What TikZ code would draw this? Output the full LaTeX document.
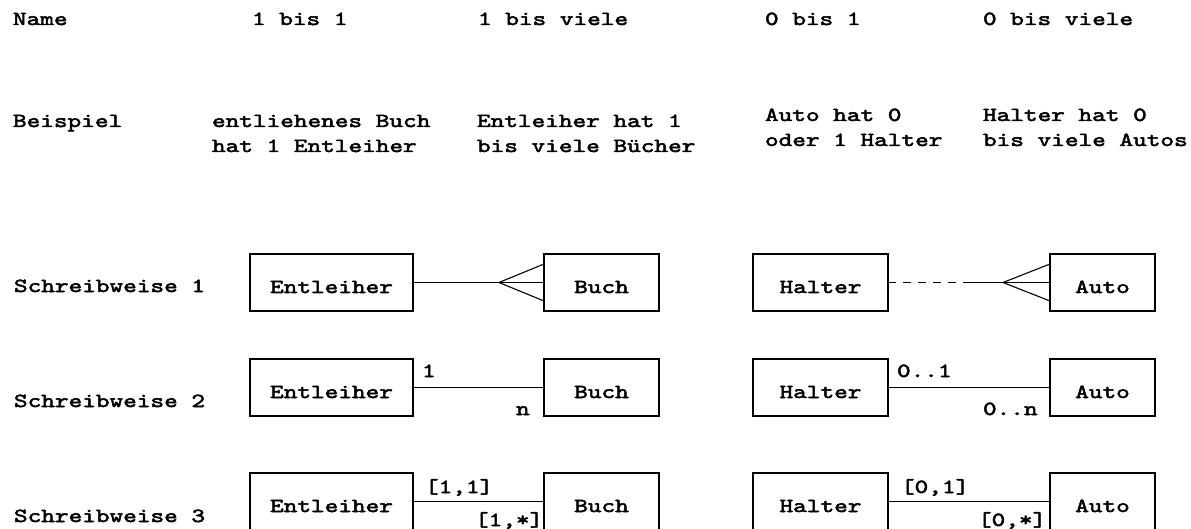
\documentclass[tikz,border=0pt]{standalone}
\usepackage{fontspec}
\usepackage{graphicx}
\usetikzlibrary{calc}
\newfontfamily\dfont[FakeStretch=1.30,FakeBold=2.5]{lmmono10-regular.otf}

\begin{document}
\begin{tikzpicture}[x=1pt,y=-1pt,
  every node/.style={inner sep=0pt,outer sep=0pt},
  txt/.style={anchor=base west,font=\dfont\fontsize{20}{24}\selectfont},
  ent/.style={draw,line width=1.3pt,minimum height=57pt,text height=21pt,text depth=0pt,
              font=\dfont\fontsize{20}{24}\selectfont},
  link/.style={line width=1.1pt},
  dashlink/.style={line width=1.1pt,dash pattern=on 8pt off 7pt},
]
\useasboundingbox[fill=white] (0,0) rectangle (1191,529);

% header rows
\node[txt] (name) at (13,25) {Name};
\node[txt] (n11) at (252,25) {1 bis 1};
\node[txt] (n1v) at (478,25) {1 bis viele};
\node[txt] (n01) at (765,25) {0 bis 1};
\node[txt] (n0v) at (983,25) {0 bis viele};

\node[txt] (bsp) at (13,127) {Beispiel};
\node[txt] (b2a) at (212,127) {entliehenes Buch};
\node[txt] (b2b) at (212,152) {hat 1 Entleiher};
\node[txt] (b3a) at (477,127) {Entleiher hat 1};
\node[txt] (b3b) at (477,152) {bis viele Bücher};
\node[txt] (b4a) at (765,121) {Auto hat 0};
\node[txt] (b4b) at (765,146) {oder 1 Halter};
\node[txt] (b5a) at (983,121) {Halter hat 0};
\node[txt] (b5b) at (983,146) {bis viele Autos};

\node[txt] (s1) at (14,292) {Schreibweise 1};
\node[txt] (s2) at (14,407) {Schreibweise 2};
\node[txt] (s3) at (14,522) {Schreibweise 3};

% row 1
\node[ent,minimum width=163pt] (E1) at (331.5,282.5) {Entleiher};
\node[ent,minimum width=115pt] (B1) at (601.5,282.5) {Buch};
\node[ent,minimum width=135pt] (H1) at (820.5,282.5) {Halter};
\node[ent,minimum width=105pt] (A1) at (1102.5,282.5) {Auto};

\coordinate (cf1) at ($(B1.west)+(-45,0)$);
\draw[link] (E1.east) -- (B1.west);
\draw[link] ($(B1.west)+(0,-18.5)$) -- (cf1) -- ($(B1.west)+(0,18.5)$);

\coordinate (cf2) at ($(A1.west)+(-47,0)$);
\coordinate (ds2) at ($(A1.west)+(-87,0)$);
\draw[dashlink] (H1.east) -- (ds2);
\draw[link] (ds2) -- (A1.west);
\draw[link] ($(A1.west)+(0,-18.5)$) -- (cf2) -- ($(A1.west)+(0,18.5)$);

% row 2
\node[ent,minimum width=163pt] (E2) at (331.5,387.5) {Entleiher};
\node[ent,minimum width=115pt] (B2) at (601.5,387.5) {Buch};
\node[ent,minimum width=135pt] (H2) at (820.5,387.5) {Halter};
\node[ent,minimum width=105pt] (A2) at (1102.5,387.5) {Auto};
\draw[link] (E2.east) -- (B2.west);
\draw[link] (H2.east) -- (A2.west);
\node[txt] (m1) at (422,377) {1};
\node[txt] (m2) at (516,415) {n};
\node[txt] (m3) at (897,377) {0..1};
\node[txt] (m4) at (983,415) {0..n};

% row 3
\node[ent,minimum width=163pt] (E3) at (331.5,501.5) {Entleiher};
\node[ent,minimum width=115pt] (B3) at (601.5,501.5) {Buch};
\node[ent,minimum width=135pt] (H3) at (820.5,501.5) {Halter};
\node[ent,minimum width=105pt] (A3) at (1102.5,501.5) {Auto};
\draw[link] (E3.east) -- (B3.west);
\draw[link] (H3.east) -- (A3.west);
\node[txt] (k1) at (425,493) {[1,1]};
\node[txt] (k2) at (475,526) {[1,*]};
\node[txt] (k3) at (901,493) {[0,1]};
\node[txt] (k4) at (978,526) {[0,*]};
\end{tikzpicture}
\end{document}
